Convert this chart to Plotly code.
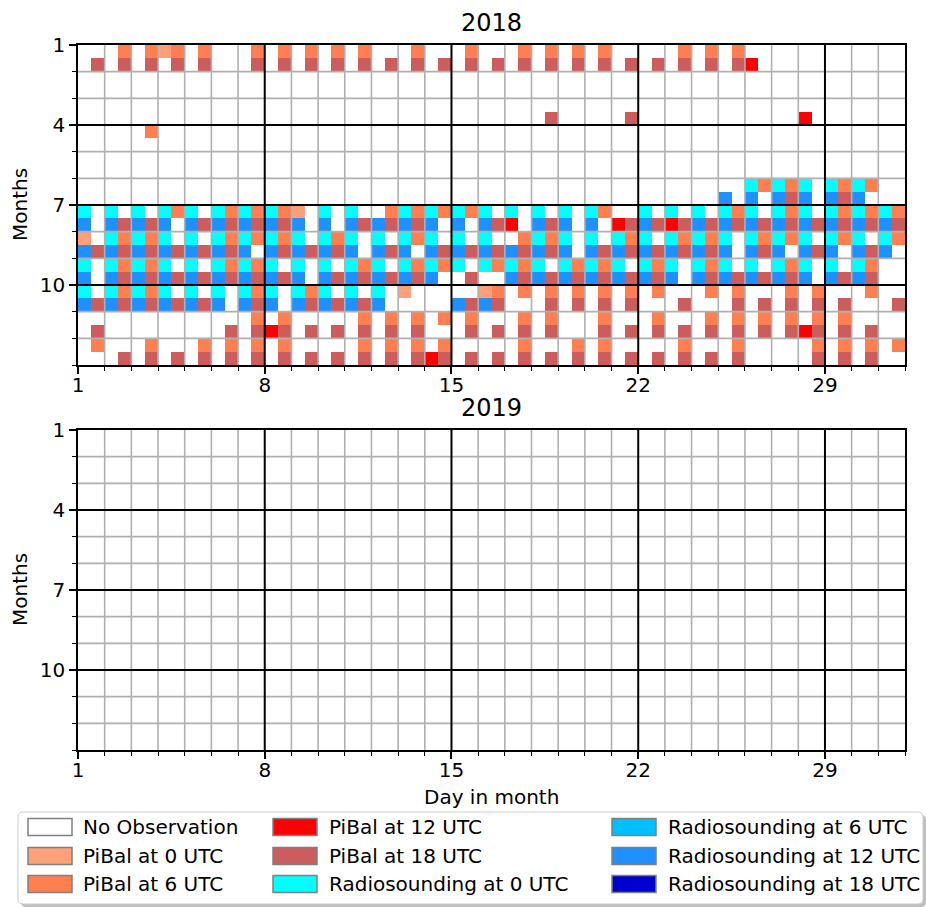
import plotly.graph_objects as go

# ---------------- data ----------------
YEARS = ["2018", "2019"]
DAY_TICKS = [1, 8, 15, 22, 29]
MONTH_TICKS = [1, 4, 7, 10]
CATEGORIES = ["No Observation", "PiBal at 0 UTC", "PiBal at 6 UTC", "PiBal at 12 UTC",
              "PiBal at 18 UTC", "Radiosounding at 0 UTC", "Radiosounding at 6 UTC",
              "Radiosounding at 12 UTC", "Radiosounding at 18 UTC"]
CODES = ["-", "S", "C", "R", "I", "Y", "D", "B", "N"]
COLORS = ["#ffffff", "#ffa07a", "#ff7f50", "#ff0000", "#cd5c5c",
          "#00ffff", "#00bfff", "#1e90ff", "#0000cd"]

# each cell: 4 chars = 0 UTC (top-left), 6 UTC (top-right), 12 UTC (bottom-left), 18 UTC (bottom-right)
JAN_2018 = "---I -C-I -C-I SC-I -C-I ---- -C-I -C-I -C-I -C-I -C-I ---I -C-I ---I -C-I ---I -C-I -C-I -C-I -C-I ---I ---I -C-I -C-I -C-I --R- ---- ---- ---- ---- ----"
FEB_2018 = "---- ---- ---- ---- ---- ---- ---- ---- ---- ---- ---- ---- ---- ---- ---- ---- ---- ---- ---- ---- ---- ---- ---- ---- ---- ---- ---- ---- ---- ---- ----"
MAR_2018 = "---- ---- ---- ---- ---- ---- ---- ---- ---- ---- ---- ---- ---- ---- ---- ---- ---- ---I ---- ---- ---I ---- ---- ---- ---- ---- ---- --R- ---- ---- ----"
APR_2018 = "---- ---- -C-- ---- ---- ---- ---- ---- ---- ---- ---- ---- ---- ---- ---- ---- ---- ---- ---- ---- ---- ---- ---- ---- ---- ---- ---- ---- ---- ---- ----"
MAY_2018 = "---- ---- ---- ---- ---- ---- ---- ---- ---- ---- ---- ---- ---- ---- ---- ---- ---- ---- ---- ---- ---- ---- ---- ---- ---- ---- ---- ---- ---- ---- ----"
JUN_2018 = "---- ---- ---- ---- ---- ---- ---- ---- ---- ---- ---- ---- ---- ---- ---- ---- ---- ---- ---- ---- ---- ---- ---- ---- --B- YCB- YCBI Y-B- YCBI YCB- ----"
JUL_2018 = "Y-B- Y-BI Y-BI YCB- Y-BI YCBI YCBI YCBI S-B- Y-B- Y-BI -CBI YCBI YCB- YCB- Y-BI Y-R- Y-BI Y-B- YCB- --RI Y-BI Y-RI Y-BI YCBI Y-BI YCBI Y-BI YCBI YCBI YCBI"
AUG_2018 = "S-BI YCBI YCBI Y-BI Y-BI YCBI YCB- YCBI Y-BI YCBI Y-B- Y-BI YCB- Y-BI Y-BI Y-BI -CBI YCBI Y-B- Y-BI YCBI Y-BI YCBI YCBI Y-B- YCBI YCB- Y-BI YCB- Y-BI YCB-"
SEP_2018 = "Y-B- YCBI YCBI Y-BI Y-BI YCBI YCBI Y-BI Y-B- Y-BI YCBI Y-BI YCBI YCB- Y--I YC-- YCBI Y-BI YCBI YCBI Y-BI YCBI Y-B- YCBI Y-BI Y-BI YCBI Y-B- Y-BI YCBI ----"
OCT_2018 = "Y-BI YCBI YCBI Y-BI Y-BI Y-B- YCBI Y-B- YCBI Y-BI Y-BI Y-B- S--- ---- --BI SCBI -C-- -C-I -C-I -C-I -C-I -C-- ---I -C-- -C-I ---I -C-I -C-I ---I -C-- ---I"
NOV_2018 = "---I ---- ---- ---- ---- ---I -C-I -CRI ---I ---I -C-I -C-I -C-I -C-- -C-I ---I -C-I -C-I ---- -C-I ---I -C-I ---I -C-I -C-I -C-I -C-I -CRI -C-I ---I ----"
DEC_2018 = "-C-- ---I -C-I ---I -C-I -C-I -C-I -C-I ---I ---I -C-I -C-I -C-I -CRI ---I ---I -C-I ---I -C-I -C-I ---I ---I -C-I ---I -C-I ---- ---- -C-I -C-I -C-I -C--"
OBS_2018 = [JAN_2018, FEB_2018, MAR_2018, APR_2018, MAY_2018, JUN_2018,
            JUL_2018, AUG_2018, SEP_2018, OCT_2018, NOV_2018, DEC_2018]
EMPTY_MONTH = "---- ---- ---- ---- ---- ---- ---- ---- ---- ---- ---- ---- ---- ---- ---- ---- ---- ---- ---- ---- ---- ---- ---- ---- ---- ---- ---- ---- ---- ---- ----"
OBS_2019 = [EMPTY_MONTH] * 12

W, H = 926, 907
FONT = "DejaVu Sans"
BASE = 20


def build_z(months):
    z = [[0] * 62 for _ in range(24)]
    for m, row in enumerate(months):
        for d, cell in enumerate(row.split()):
            for q, ch in enumerate(cell):
                z[2 * m + q // 2][2 * d + q % 2] = CODES.index(ch)
    return z


n = len(COLORS)
colorscale = []
for i, c in enumerate(COLORS):
    colorscale.append([i / n, c])
    colorscale.append([(i + 1) / n, c])

def px_x(v):
    return v / W

def px_y(v):
    return 1 - v / H

fig = go.Figure()
panels = [(OBS_2018, "x", "y", 45, 365), (OBS_2019, "x2", "y2", 430, 750)]
shapes = []
annotations = []
for (data, xr, yr, top, bot), year in zip(panels, YEARS):
    fig.add_trace(go.Heatmap(z=build_z(data), x0=1.25, dx=0.5, y0=1.25, dy=0.5,
                             zmin=-0.5, zmax=n - 0.5, colorscale=colorscale,
                             showscale=False, hoverinfo="skip", xaxis=xr, yaxis=yr))
    for d in range(2, 32):
        if d not in DAY_TICKS:
            shapes.append(dict(type="line", xref=xr, yref=yr, x0=d, x1=d, y0=1, y1=13,
                               line=dict(color="#b0b0b0", width=1.6)))
    for m in range(2, 13):
        if m not in MONTH_TICKS:
            shapes.append(dict(type="line", xref=xr, yref=yr, x0=1, x1=32, y0=m, y1=m,
                               line=dict(color="#b0b0b0", width=1.6)))
    for d in DAY_TICKS[1:]:
        shapes.append(dict(type="line", xref=xr, yref=yr, x0=d, x1=d, y0=1, y1=13,
                           line=dict(color="black", width=2)))
    for m in MONTH_TICKS[1:]:
        shapes.append(dict(type="line", xref=xr, yref=yr, x0=1, x1=32, y0=m, y1=m,
                           line=dict(color="black", width=2)))
    annotations.append(dict(text=year, x=px_x(491.5), y=px_y(top - 22), xref="paper", yref="paper",
                            showarrow=False, font=dict(size=24, family=FONT, color="black"),
                            xanchor="center", yanchor="middle"))
    annotations.append(dict(text="Months", x=px_x(20), y=px_y((top + bot) / 2), xref="paper",
                            yref="paper", showarrow=False, textangle=-90,
                            font=dict(size=BASE, family=FONT, color="black"),
                            xanchor="center", yanchor="middle"))

annotations.append(dict(text="Day in month", x=px_x(491.5), y=px_y(797), xref="paper", yref="paper",
                        showarrow=False, font=dict(size=BASE, family=FONT, color="black"),
                        xanchor="center", yanchor="middle"))

# legend box
lx0, lx1, ly0, ly1, r = 18, 923, 812, 904, 5
def rounded(x0, y0, x1, y1, r):
    X = lambda v: px_x(v)
    Y = lambda v: px_y(v)
    return (f"M {X(x0 + r)},{Y(y0)} L {X(x1 - r)},{Y(y0)} Q {X(x1)},{Y(y0)} {X(x1)},{Y(y0 + r)} "
            f"L {X(x1)},{Y(y1 - r)} Q {X(x1)},{Y(y1)} {X(x1 - r)},{Y(y1)} L {X(x0 + r)},{Y(y1)} "
            f"Q {X(x0)},{Y(y1)} {X(x0)},{Y(y1 - r)} L {X(x0)},{Y(y0 + r)} Q {X(x0)},{Y(y0)} {X(x0 + r)},{Y(y0)} Z")
shapes.append(dict(type="path", xref="paper", yref="paper", path=rounded(lx0 + 3, ly0 + 3, lx1 + 3, ly1 + 3, r),
                   fillcolor="rgba(128,128,128,0.5)", line=dict(width=0)))
shapes.append(dict(type="path", xref="paper", yref="paper", path=rounded(lx0, ly0, lx1, ly1, r),
                   fillcolor="white", line=dict(color="#cccccc", width=1)))
col_patch = [28, 273, 612]
col_text = [81, 327, 666]
row_y = [827, 856, 884]
for i, (label, color) in enumerate(zip(CATEGORIES, COLORS)):
    c, rr = i // 3, i % 3
    yc = row_y[rr]
    shapes.append(dict(type="rect", xref="paper", yref="paper",
                       x0=px_x(col_patch[c]), x1=px_x(col_patch[c] + 44),
                       y0=px_y(yc - 8.5), y1=px_y(yc + 8.5),
                       fillcolor=color, line=dict(color="#808080", width=1.5)))
    annotations.append(dict(text=label, x=px_x(col_text[c]), y=px_y(yc), xref="paper", yref="paper",
                            showarrow=False, xanchor="left", yanchor="middle",
                            font=dict(size=BASE, family=FONT, color="black")))

axis_common = dict(showline=True, mirror=True, linecolor="black", linewidth=1.5,
                   showgrid=False, zeroline=False, ticks="outside", ticklen=7, tickwidth=1.5,
                   tickcolor="black", tickfont=dict(size=BASE, family=FONT, color="black"),
                   automargin=False, tickmode="array")
xdom = [px_x(78), px_x(905)]
minor_x = dict(tickmode="array", tickvals=list(range(1, 33)), ticks="outside",
               ticklen=4, tickwidth=1, tickcolor="black")
minor_y = dict(tickmode="array", tickvals=list(range(1, 14)), ticks="outside",
               ticklen=4, tickwidth=1, tickcolor="black")
fig.update_layout(
    width=W, height=H, margin=dict(l=0, r=0, t=0, b=0), template="none",
    paper_bgcolor="white", plot_bgcolor="white", showlegend=False,
    xaxis=dict(domain=xdom, range=[1, 32], tickvals=DAY_TICKS, anchor="y", minor=minor_x,
               ticklabelstandoff=-6, **axis_common),
    yaxis=dict(domain=[px_y(365), px_y(45)], range=[13, 1], tickvals=MONTH_TICKS, anchor="x",
               minor=minor_y, **axis_common),
    xaxis2=dict(domain=xdom, range=[1, 32], tickvals=DAY_TICKS, anchor="y2", minor=minor_x,
                ticklabelstandoff=-6, **axis_common),
    yaxis2=dict(domain=[px_y(750), px_y(430)], range=[13, 1], tickvals=MONTH_TICKS, anchor="x2",
                minor=minor_y, **axis_common),
    shapes=shapes, annotations=annotations,
)
fig.write_html("out.html")
